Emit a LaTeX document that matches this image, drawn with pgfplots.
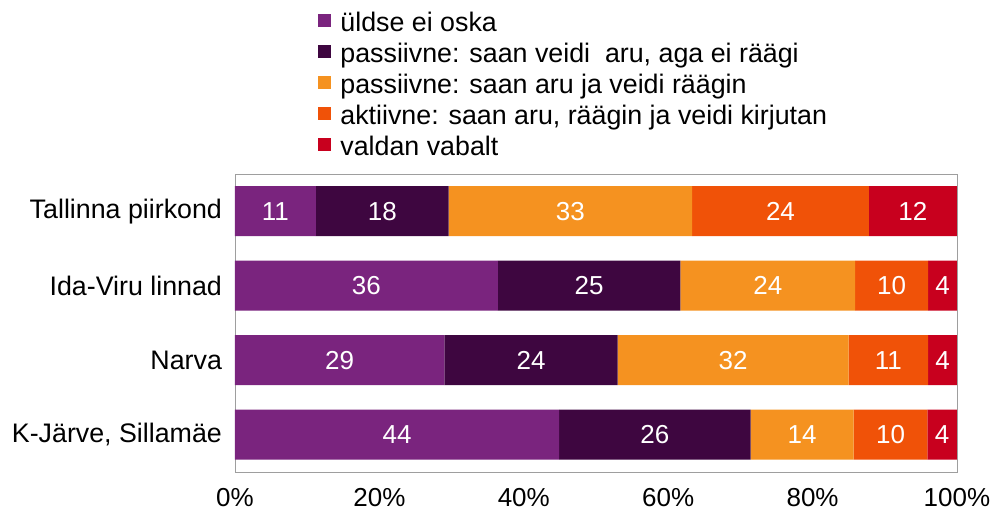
\documentclass[border=0pt]{standalone}
\usepackage{pgfplots}
\usepackage{pgfplotstable}
\pgfplotsset{compat=1.18}
\usepackage{fontspec}
\setmainfont{Liberation Sans}
\definecolor{c1}{RGB}{122,36,126}
\definecolor{c2}{RGB}{62,6,64}
\definecolor{c3}{RGB}{245,146,32}
\definecolor{c4}{RGB}{240,82,8}
\definecolor{c5}{RGB}{200,0,30}
% y: 0 = K-Jarve, 1 = Narva, 2 = Ida-Viru, 3 = Tallinna
\pgfplotstableread{
y val lab
0 44.9 44
1 29.0 29
2 36.4 36
3 11.2 11
}\tA
\pgfplotstableread{
y val lab
0 26.5 26
1 24.0 24
2 25.3 25
3 18.4 18
}\tB
\pgfplotstableread{
y val lab
0 14.3 14
1 32.0 32
2 24.2 24
3 33.7 33
}\tC
\pgfplotstableread{
y val lab
0 10.2 10
1 11.0 11
2 10.1 10
3 24.5 24
}\tD
\pgfplotstableread{
y val lab
0 4.1 4
1 4.0 4
2 4.0 4
3 12.2 12
}\tE
\begin{document}
\begin{tikzpicture}
\path[use as bounding box] (-117.5pt,-20.5pt) rectangle (379pt,236pt);
\begin{axis}[
  at={(0,0)}, anchor=south west,
  scale only axis, width=361pt, height=149pt,
  xbar stacked, bar width=25pt,
  xmin=0, xmax=100, ymin=-0.5, ymax=3.5,
  xtick={0,20,40,60,80,100},
  xticklabels={0\%,20\%,40\%,60\%,80\%,100\%},
  ytick={0,1,2,3},
  yticklabels={{K-Järve, Sillamäe},{Narva},{Ida-Viru linnad},{Tallinna piirkond}},
  major tick length=0pt,
  axis line style={draw=black!38},
  xticklabel style={font=\fontsize{13}{15}\selectfont, yshift=-4.5pt},
  yticklabel style={font=\fontsize{13.4}{15}\selectfont, xshift=-3pt},
  point meta=explicit symbolic,
  nodes near coords,
  every node near coord/.append style={text=white, font=\fontsize{13}{15}\selectfont, anchor=center},
  legend style={draw=none, fill=none, at={(0.115,1.55)}, anchor=north west,
    inner sep=0pt, row sep=1pt, font=\fontsize{13.4}{15}\selectfont,
    nodes={inner sep=1pt, text height=9.5pt, text depth=3pt},
    /tikz/every odd column/.append style={column sep=3.5pt}},
  legend cell align=left,
  legend image code/.code={\fill[#1] (0pt,-1pt) rectangle (6.5pt,5.5pt);},
]
\addplot[fill=c1, draw=none] table[x=val, y=y, meta=lab] {\tA};
\addplot[fill=c2, draw=none] table[x=val, y=y, meta=lab] {\tB};
\addplot[fill=c3, draw=none] table[x=val, y=y, meta=lab] {\tC};
\addplot[fill=c4, draw=none] table[x=val, y=y, meta=lab] {\tD};
\addplot[fill=c5, draw=none] table[x=val, y=y, meta=lab] {\tE};
\legend{{üldse ei oska}, {passiivne: saan veidi~ aru, aga ei räägi}, {passiivne: saan aru ja veidi räägin}, {aktiivne: saan aru, räägin ja veidi kirjutan}, {valdan vabalt}}
\end{axis}
\end{tikzpicture}
\end{document}
